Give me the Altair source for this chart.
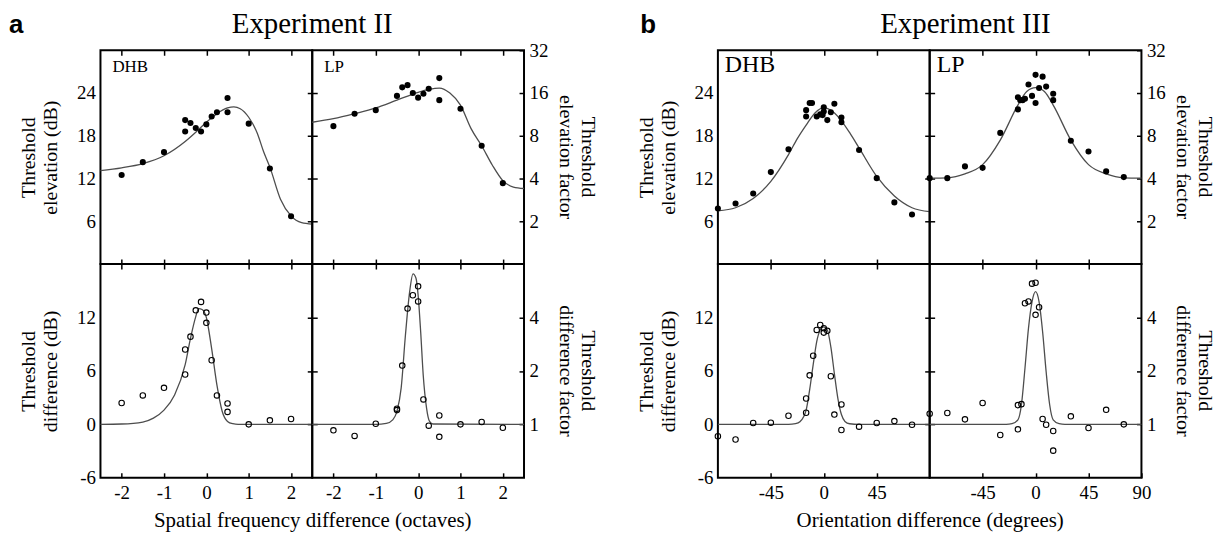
import altair as alt
import pandas as pd

SERIF = "Liberation Serif"
SANS = "Liberation Sans"

# ---------------- text ----------------
panel_letters = ["a", "b"]
experiments = ["Experiment II", "Experiment III"]
subjects = ["DHB", "LP"]
x_titles = ["Spatial frequency difference (octaves)", "Orientation difference (degrees)"]
y_title_elev = ["Threshold", "elevation (dB)"]
y_title_diff = ["Threshold", "difference (dB)"]
r_title_elev = ["Threshold", "elevation factor"]
r_title_diff = ["Threshold", "difference factor"]

# ---------------- ticks ----------------
sf_ticks = [-2, -1, 0, 1, 2]
or_ticks_dhb = [-45, 0, 45]
or_ticks_lp = [-45, 0, 45, 90]
elev_ticks = [6, 12, 18, 24]
elev_factor_ticks = [6, 12, 18, 24, 30]
diff_ticks = [-6, 0, 6, 12]
diff_inner_ticks = [0, 6, 12]
diff_factor_ticks = [0, 6, 12]

sf_domain = [-2.5, 2.5]
or_domain = [-90, 90]
elev_domain = [0, 30]
diff_domain = [-6, 18]

# ---------------- Experiment II (spatial frequency) ----------------
a_dhb_el_x = [-2, -1.5, -1, -0.5, -0.5, -0.375, -0.25, -0.125, 0, 0.125, 0.25, 0.5, 0.5, 1, 1.5, 2]
a_dhb_el_y = [12.5, 14.3, 15.7, 20.2, 18.6, 19.8, 19.1, 18.6, 19.6, 20.7, 21.3, 23.3, 21.3, 19.7, 13.4, 6.7]
a_dhb_el_fit_x = [-2.5, -2, -1.5, -1, -0.5, -0.25, 0, 0.25, 0.5, 0.65, 0.8, 1.0, 1.2, 1.35, 1.5, 1.75, 2.0, 2.25, 2.5]
a_dhb_el_fit_y = [13.1, 13.5, 14.1, 15.2, 17.2, 18.5, 19.9, 21.1, 21.9, 22.05, 21.8, 20.6, 18.4, 15.8, 13.6, 9.1, 6.75, 5.8, 5.6]

a_lp_el_x = [-2, -1.5, -1, -0.5, -0.375, -0.25, -0.125, 0, 0.125, 0.25, 0.5, 0.5, 1, 1.5, 2]
a_lp_el_y = [19.35, 21.1, 21.6, 23.6, 24.8, 25.1, 24.0, 23.35, 23.9, 24.6, 26.1, 23.0, 21.8, 16.6, 11.35]
a_lp_el_fit_x = [-2.5, -2, -1.5, -1, -0.5, 0, 0.25, 0.5, 0.75, 1.0, 1.25, 1.5, 1.75, 2.0, 2.25, 2.5]
a_lp_el_fit_y = [19.9, 20.4, 21.1, 21.9, 23.0, 24.1, 24.5, 24.7, 24.0, 22.3, 19.0, 16.6, 13.9, 11.7, 10.8, 10.6]

a_dhb_df_x = [-2, -1.5, -1, -0.5, -0.5, -0.375, -0.25, -0.125, 0, 0, 0.125, 0.25, 0.5, 0.5, 1, 1.5, 2]
a_dhb_df_y = [2.4, 3.25, 4.1, 8.4, 5.6, 9.85, 12.8, 13.75, 12.55, 11.4, 7.2, 3.25, 2.35, 1.4, 0.0, 0.45, 0.6]
a_dhb_df_fit_x = [-2.5, -2, -1.5, -1.25, -1, -0.75, -0.5, -0.375, -0.25, -0.18, -0.1, 0, 0.125, 0.25, 0.375, 0.5, 0.625, 0.75, 2.5]
a_dhb_df_fit_y = [0, 0.04, 0.26, 0.7, 1.6, 3.3, 6.7, 9.65, 12.1, 13.0, 12.9, 12.0, 8.5, 4.4, 1.45, 0.33, 0.07, 0, 0]

a_lp_df_x = [-2, -1.5, -1, -0.5, -0.5, -0.375, -0.25, -0.125, 0, 0, 0.125, 0.25, 0.5, 0.5, 1, 1.5, 2]
a_lp_df_y = [-0.67, -1.3, 0.07, 1.6, 1.75, 6.6, 13.0, 14.5, 15.5, 13.8, 2.8, -0.15, 1.0, -1.4, 0.0, 0.26, -0.38]
a_lp_df_fit_x = [-2.5, -1, -0.75, -0.6, -0.5, -0.4, -0.3, -0.2, -0.12, -0.05, 0, 0.06, 0.12, 0.2, 0.27, 0.35, 2.5]
a_lp_df_fit_y = [0, 0, 0.1, 0.5, 1.45, 4.1, 10.0, 14.9, 16.9, 16.4, 14.5, 10.4, 5.55, 1.8, 0.33, 0.04, 0]

# ---------------- Experiment III (orientation) ----------------
b_dhb_el_x = [-90, -75, -60, -45, -30, -15, -15, -12, -10, -6, -3, -1, 0, 0, 3, 6, 9, 15, 15, 30, 45, 60, 75]
b_dhb_el_y = [7.8, 8.5, 9.9, 12.9, 16.1, 21.6, 20.7, 22.6, 22.6, 20.7, 21.0, 20.9, 22.0, 21.4, 20.2, 21.3, 22.5, 20.55, 19.9, 16.0, 12.05, 8.65, 6.95]
b_dhb_el_fit_x = [-90, -75, -60, -45, -30, -22.5, -15, -7.5, 0, 7.5, 15, 22.5, 30, 45, 60, 75, 90]
b_dhb_el_fit_y = [7.45, 7.9, 9.2, 11.6, 15.35, 17.6, 19.5, 21.2, 21.95, 21.4, 20.1, 18.3, 16.3, 12.3, 9.55, 7.9, 7.35]

b_lp_el_x = [-90, -75, -60, -45, -30, -15, -15, -13, -11, -9, -6, -3, 0, 0, 3, 6, 9, 15, 15, 30, 45, 60, 75]
b_lp_el_y = [12.05, 12.05, 13.7, 13.5, 18.4, 23.4, 21.7, 23.0, 23.0, 23.2, 25.2, 23.6, 22.6, 26.55, 24.7, 26.3, 24.9, 23.9, 23.0, 17.3, 15.8, 13.0, 12.2]
b_lp_el_fit_x = [-90, -75, -60, -45, -30, -15, -7.5, 0, 7.5, 15, 30, 45, 60, 75, 90]
b_lp_el_fit_y = [12.05, 12.1, 12.65, 13.95, 17.4, 22.3, 24.2, 24.75, 24.2, 22.3, 17.4, 13.95, 12.65, 12.1, 12.05]

b_dhb_df_x = [-90, -75, -60, -45, -30, -15, -15, -12, -9, -6, -3, 0, 0, 3, 6, 9, 15, 15, 30, 45, 60, 75]
b_dhb_df_y = [-1.34, -1.7, 0.15, 0.19, 0.97, 1.3, 2.9, 5.5, 7.7, 10.6, 11.15, 10.8, 10.3, 10.5, 5.4, 1.1, 2.24, -0.63, -0.26, 0.15, 0.37, -0.04]
b_dhb_df_fit_x = [-90, -30, -24, -20, -15, -12, -9, -6, -3, 0, 3, 6, 9, 12, 15, 18, 22, 30, 90]
b_dhb_df_fit_y = [0, 0, 0.07, 0.33, 1.6, 3.9, 6.7, 9.3, 10.6, 10.95, 10.6, 8.7, 5.7, 2.9, 1.1, 0.33, 0.07, 0, 0]

b_lp_df_x = [-90, -75, -60, -45, -30, -15, -15, -12, -9, -6, -3, 0, 0, 3, 6, 9, 15, 15, 30, 45, 60, 75]
b_lp_df_y = [1.2, 1.27, 0.56, 2.4, -1.2, -0.56, 2.16, 2.27, 13.6, 13.8, 15.8, 15.9, 12.3, 13.15, 0.6, -0.04, -0.75, -2.95, 0.9, -0.41, 1.63, 0.0]
b_lp_df_fit_x = [-90, -25, -20, -15, -12, -9, -6, -3, 0, 3, 6, 9, 12, 15, 20, 25, 90]
b_lp_df_fit_y = [0, 0, 0.07, 0.5, 2.2, 6.3, 10.8, 13.75, 14.9, 13.75, 10.4, 5.9, 2.2, 0.5, 0.07, 0, 0]

# ---------------- layout constants ----------------
W, H = 213, 215
GAP = 195
T = 5


def frame(x, y):
    return pd.DataFrame({"x": x, "y": y})


def inner_axis(orient, values):
    return alt.Axis(orient=orient, values=values, offset=-T, tickSize=T,
                    labels=False, title=None)


def left_label_axis(values, title):
    return alt.Axis(orient="left", values=values, ticks=False, tickSize=0, labelPadding=5,
                    labelExpr="'' + datum.value", title=title, titleX=-72, titleY=H / 2,
                    titleAngle=270, titleBaseline="middle", titleAlign="center",
                    titleLineHeight=22)


def right_label_axis(values):
    return alt.Axis(orient="right", values=values, offset=-T, tickSize=T, labelPadding=5,
                    labelExpr="'' + pow(2, datum.value / 6)", title=None)


def bottom_label_axis(values, title=None):
    kw = dict(orient="bottom", values=values, offset=-T, tickSize=T, labelPadding=6,
              labelExpr="'' + datum.value", labelFlush=False, labelOverlap=False)
    if title:
        kw.update(title=title, titleX=W, titleY=54, titleAngle=0, titleAlign="center",
                  titleBaseline="alphabetic", titleFontSize=21)
    else:
        kw.update(title=None)
    return alt.Axis(**kw)


def label(text, x, y, size, font=SERIF, weight="normal", align="left",
          baseline="alphabetic", angle=0):
    return alt.Chart(pd.DataFrame({"t": [text]})).mark_text(
        font=font, fontSize=size, fontWeight=weight, align=align,
        baseline=baseline, angle=angle, color="black").encode(
        x=alt.value(x), y=alt.value(y), text="t:N")


def right_title(lines):
    # outer line "Threshold", inner line the quantity, both read top to bottom
    return [label(lines[0], W + 64, H / 2, 20, align="center", baseline="middle", angle=90),
            label(lines[1], W + 42, H / 2, 20, align="center", baseline="middle", angle=90)]


def subplot(px, py, fx, fy, xdom, ydom, filled, x_top, x_bottom, y_left, y_right, texts):
    xs = alt.Scale(domain=xdom, nice=False, zero=False)
    ys = alt.Scale(domain=ydom, nice=False, zero=False)
    curve = alt.Chart(frame(fx, fy)).mark_line(
        color="#4d4d4d", strokeWidth=1.3, interpolate="monotone").encode(
        x=alt.X("x:Q", scale=xs, axis=x_top),
        y=alt.Y("y:Q", scale=ys, axis=y_right))
    if filled:
        mk = alt.Chart(frame(px, py)).mark_point(
            shape="circle", filled=True, size=38, color="black", opacity=1)
    else:
        mk = alt.Chart(frame(px, py)).mark_point(
            shape="circle", filled=False, size=30, color="black", strokeWidth=1.1, opacity=1)
    pts = mk.encode(x=alt.X("x:Q", scale=xs, axis=x_bottom),
                    y=alt.Y("y:Q", scale=ys, axis=y_left))
    return alt.layer(curve, pts, *texts).resolve_scale(
        x="independent", y="independent").properties(width=W, height=H)


def spacer():
    return alt.Chart(pd.DataFrame({"t": [""]})).mark_text(text="").encode(
        x=alt.value(0), y=alt.value(0)).properties(
        width=GAP, height=H, view=alt.ViewBackground(stroke="white", strokeOpacity=0))


def panel(idx, data, xdom, xt_dhb, xt_lp, subj_size, subj_dx, title_dx, letter_dx):
    (dhb_el, lp_el, dhb_df, lp_df) = data
    top_dhb = subplot(*dhb_el, xdom, elev_domain, True,
                      inner_axis("top", xt_dhb), inner_axis("bottom", xt_dhb),
                      left_label_axis(elev_ticks, y_title_elev), inner_axis("right", elev_ticks),
                      [label(subjects[0], subj_dx, 22, subj_size),
                       label(panel_letters[idx], letter_dx, -17, 26, font=SANS, weight="bold"),
                       label(experiments[idx], W + title_dx, -17, 29, align="center")])
    top_lp = subplot(*lp_el, xdom, elev_domain, True,
                     inner_axis("top", xt_dhb), inner_axis("bottom", xt_dhb),
                     inner_axis("left", elev_ticks), right_label_axis(elev_factor_ticks),
                     [label(subjects[1], subj_dx, 22, subj_size)] + right_title(r_title_elev))
    bot_dhb = subplot(*dhb_df, xdom, diff_domain, False,
                      inner_axis("top", xt_dhb), bottom_label_axis(xt_dhb, x_titles[idx]),
                      left_label_axis(diff_ticks, y_title_diff), inner_axis("right", diff_inner_ticks),
                      [])
    bot_lp = subplot(*lp_df, xdom, diff_domain, False,
                     inner_axis("top", xt_dhb), bottom_label_axis(xt_lp),
                     inner_axis("left", diff_inner_ticks), right_label_axis(diff_factor_ticks),
                     right_title(r_title_diff))
    return (top_dhb, top_lp), (bot_dhb, bot_lp)


(a_top, a_bot) = panel(0, (
    (a_dhb_el_x, a_dhb_el_y, a_dhb_el_fit_x, a_dhb_el_fit_y),
    (a_lp_el_x, a_lp_el_y, a_lp_el_fit_x, a_lp_el_fit_y),
    (a_dhb_df_x, a_dhb_df_y, a_dhb_df_fit_x, a_dhb_df_fit_y),
    (a_lp_df_x, a_lp_df_y, a_lp_df_fit_x, a_lp_df_fit_y)),
    sf_domain, sf_ticks, sf_ticks, 17, 12, 0, -92)

(b_top, b_bot) = panel(1, (
    (b_dhb_el_x, b_dhb_el_y, b_dhb_el_fit_x, b_dhb_el_fit_y),
    (b_lp_el_x, b_lp_el_y, b_lp_el_fit_x, b_lp_el_fit_y),
    (b_dhb_df_x, b_dhb_df_y, b_dhb_df_fit_x, b_dhb_df_fit_y),
    (b_lp_df_x, b_lp_df_y, b_lp_df_fit_x, b_lp_df_fit_y)),
    or_domain, or_ticks_dhb, or_ticks_lp, 24, 7, 36, -78)

cells = [a_top[0], a_top[1], spacer(), b_top[0], b_top[1],
         a_bot[0], a_bot[1], spacer(), b_bot[0], b_bot[1]]

chart = alt.concat(*cells, columns=5, spacing=0, bounds="flush").properties(
    padding={"left": 0, "top": 0, "right": 2, "bottom": 0}, background="white"
).configure_view(
    stroke="black", strokeWidth=2
).configure_axis(
    grid=False, domain=False, labelFont=SERIF, titleFont=SERIF, labelFontSize=19,
    titleFontSize=20, titleFontWeight="normal", labelColor="black", titleColor="black",
    tickColor="black", tickWidth=1.5
)

chart.save("out.html", embed_options={"renderer": "svg", "actions": False})
